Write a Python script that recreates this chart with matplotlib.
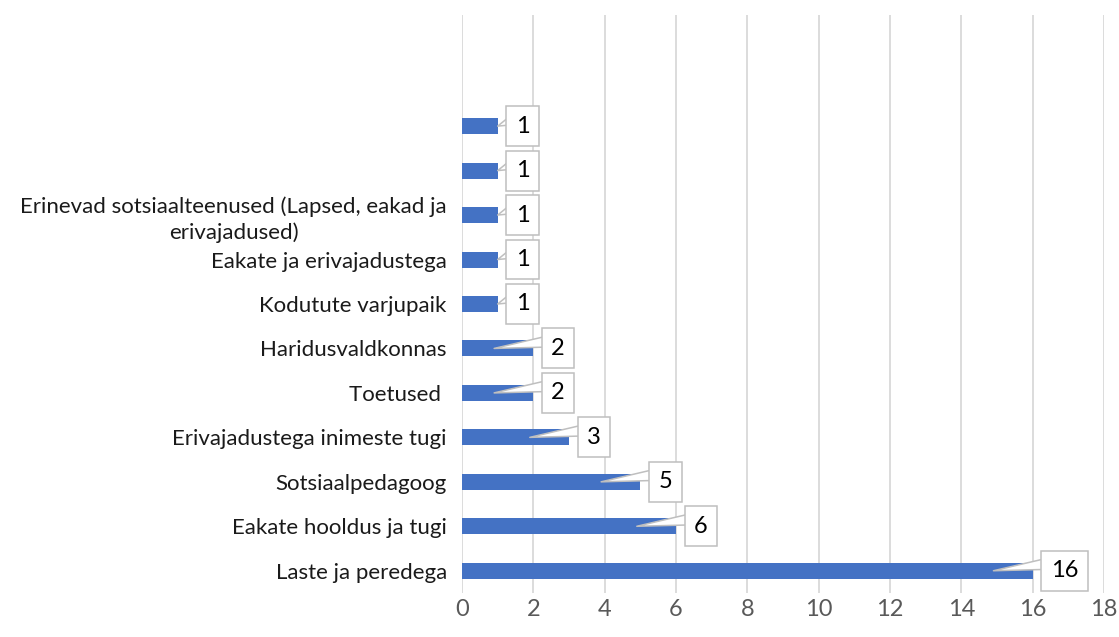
import matplotlib
matplotlib.use("Agg")
import matplotlib.pyplot as plt
from matplotlib.transforms import ScaledTranslation
import numpy as np

# categories from bottom to top, the two top slots are empty in the source
categories = ["Laste ja peredega", "Eakate hooldus ja tugi", "Sotsiaalpedagoog",
              "Erivajadustega inimeste tugi", "Toetused ", "Haridusvaldkonnas",
              "Kodutute varjupaik", "Eakate ja erivajadustega",
              "Erinevad sotsiaalteenused (Lapsed, eakad ja\nerivajadused)",
              "", "", "", ""]
values = [16, 6, 5, 3, 2, 2, 1, 1, 1, 1, 1, None, None]
xticks = np.arange(0, 19, 2)

plt.rcParams["font.family"] = ["Lato", "DejaVu Sans"]
FS = 16

fig = plt.figure(figsize=(11.19, 6.37), dpi=100)
ax = fig.add_axes([0.4129, 0.0691, 0.5737, 0.9074])

y = np.arange(len(categories))
vals = np.array([np.nan if v is None else v for v in values], dtype=float)
ax.barh(y, np.nan_to_num(vals), height=0.36, color="#4472C4", zorder=2)

ax.set_xlim(0, 18)
ax.set_ylim(-0.5, len(categories) - 0.5)
ax.set_xticks(xticks)
ax.set_yticks(y)
ax.set_yticklabels(categories, fontsize=FS, color="#1a1a1a")
for lbl in ax.get_yticklabels():
    lbl.set_multialignment("center")
    lbl.set_linespacing(1.35)
ax.tick_params(axis="x", length=0, labelsize=FS + 1, labelcolor="#595959", pad=4)
ax.tick_params(axis="y", length=0, pad=11)
ax.grid(axis="x", color="#d9d9d9", linewidth=1.3, zorder=0)
for s in ax.spines.values():
    s.set_visible(False)

# data callouts: box sits just right of the bar end, wedge points into the bar
for yi, v in zip(y, vals):
    if np.isnan(v):
        continue
    tip = v - 1.1 if v > 1.5 else v
    tc = ax.transData + ScaledTranslation(18 / fig.dpi, 0, fig.dpi_scale_trans)
    ax.annotate(f"{int(v)}", xy=(tip, yi), xycoords="data",
                xytext=(v, yi), textcoords=tc,
                ha="left", va="center", fontsize=FS + 1, color="black", zorder=5,
                bbox=dict(boxstyle="square,pad=0.4", fc="white", ec="#bfbfbf", lw=1.1),
                arrowprops=dict(arrowstyle="wedge,tail_width=0.5", fc="white",
                                ec="#bfbfbf", lw=1.1, relpos=(0, 0.85),
                                shrinkA=0, shrinkB=0, patchA=None))

fig.savefig("out.png", dpi=100)
